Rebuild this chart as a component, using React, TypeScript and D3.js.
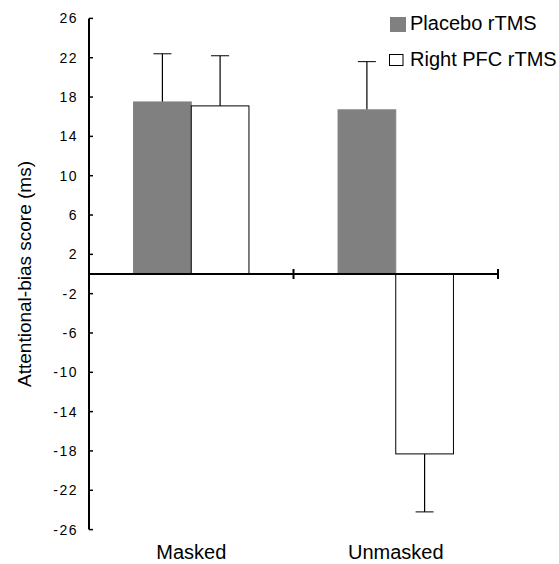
import React from "react";
import * as d3 from "d3";

// Conditions on the x axis
const categories = ["Masked", "Unmasked"];
// Stimulation groups
const seriesNames = ["Placebo rTMS", "Right PFC rTMS"];
// Mean attentional-bias scores (ms), one array per group, ordered by category
const placeboMeans = [17.5, 16.7];
const rightPfcMeans = [17.1, -18.3];
// Standard errors drawn as one-sided error bars
const placeboErrors = [4.9, 4.9];
const rightPfcErrors = [5.1, 5.9];
// Y axis tick labels
const yTicks = [26, 22, 18, 14, 10, 6, 2, -2, -6, -10, -14, -18, -22, -26];

const W = 559;
const H = 564;
const FONT = "'Liberation Sans', Arial, Helvetica, sans-serif";
const fills = ["#808080", "#ffffff"];

export default function App() {
  const y = d3.scaleLinear().domain([-26, 26]).range([529.6, 18.4]);
  const x0 = d3.scaleBand<string>().domain(categories).range([89, 498]).padding(0);
  const x1 = d3
    .scaleBand<string>()
    .domain(seriesNames)
    .range([0, x0.bandwidth()])
    .paddingInner(0)
    .paddingOuter(0.772);

  const means = [placeboMeans, rightPfcMeans];
  const errs = [placeboErrors, rightPfcErrors];
  const y0 = y(0);
  const axisLeft = x0.range()[0];
  const axisRight = x0.range()[1];
  const boundaries = [...categories.map((c) => x0(c) as number), axisRight];

  return (
    <svg
      width={W}
      height={H}
      style={{ position: "absolute", left: 0, top: 0, background: "#fff" }}
      fontFamily={FONT}
    >
      <rect width={W} height={H} fill="#fff" />

      {/* bars with one-sided error bars */}
      {seriesNames.map((s, si) =>
        categories.map((c, ci) => {
          const v = means[si][ci];
          const e = errs[si][ci];
          const bx = (x0(c) as number) + (x1(s) as number);
          const bw = x1.bandwidth();
          const top = Math.min(y(v), y0);
          const h = Math.abs(y(v) - y0);
          const cx = bx + bw / 2;
          const end = y(v >= 0 ? v + e : v - e);
          return (
            <g key={`${s}-${c}`}>
              <line x1={cx} x2={cx} y1={y(v)} y2={end} stroke="#000" strokeWidth={1.2} />
              <line x1={cx - 9} x2={cx + 9} y1={end} y2={end} stroke="#000" strokeWidth={1} />
              <rect
                x={bx}
                y={top}
                width={bw}
                height={h}
                fill={fills[si]}
                stroke={si === 0 ? "#808080" : "#000"}
                strokeWidth={1}
              />
            </g>
          );
        })
      )}

      {/* y axis */}
      <line x1={axisLeft} x2={axisLeft} y1={y(26)} y2={y(-26)} stroke="#000" strokeWidth={2} />
      {yTicks.map((t) => (
        <g key={t}>
          <line x1={axisLeft} x2={axisLeft + 4} y1={y(t)} y2={y(t)} stroke="#000" strokeWidth={1.5} />
          <text
            x={78}
            y={y(t)}
            dy="0.36em"
            textAnchor="end"
            fontSize={14}
            letterSpacing="1.5px"
            fill="#000"
          >
            {t}
          </text>
        </g>
      ))}

      {/* x axis along zero */}
      <line x1={axisLeft} x2={axisRight} y1={y0} y2={y0} stroke="#000" strokeWidth={2} />
      {boundaries.map((b, i) => (
        <line key={i} x1={b} x2={b} y1={y0 - 5} y2={y0 + 5} stroke="#000" strokeWidth={2} />
      ))}
      {categories.map((c) => (
        <text
          key={c}
          x={(x0(c) as number) + x0.bandwidth() / 2}
          y={559}
          textAnchor="middle"
          fontSize={20}
          fill="#000"
        >
          {c}
        </text>
      ))}

      {/* y axis title */}
      <text
        transform={`translate(31, ${y0}) rotate(-90)`}
        textAnchor="middle"
        fontSize={19}
        fill="#000"
      >
        Attentional-bias score (ms)
      </text>

      {/* legend */}
      <rect x={390} y={17} width={16} height={15} fill={fills[0]} />
      <text x={410} y={30} fontSize={20} fill="#000">
        {seriesNames[0]}
      </text>
      <rect x={389.5} y={54.5} width={13.5} height={11} fill={fills[1]} stroke="#000" strokeWidth={1} />
      <text x={410} y={65.5} fontSize={20} fill="#000">
        {seriesNames[1]}
      </text>
    </svg>
  );
}
